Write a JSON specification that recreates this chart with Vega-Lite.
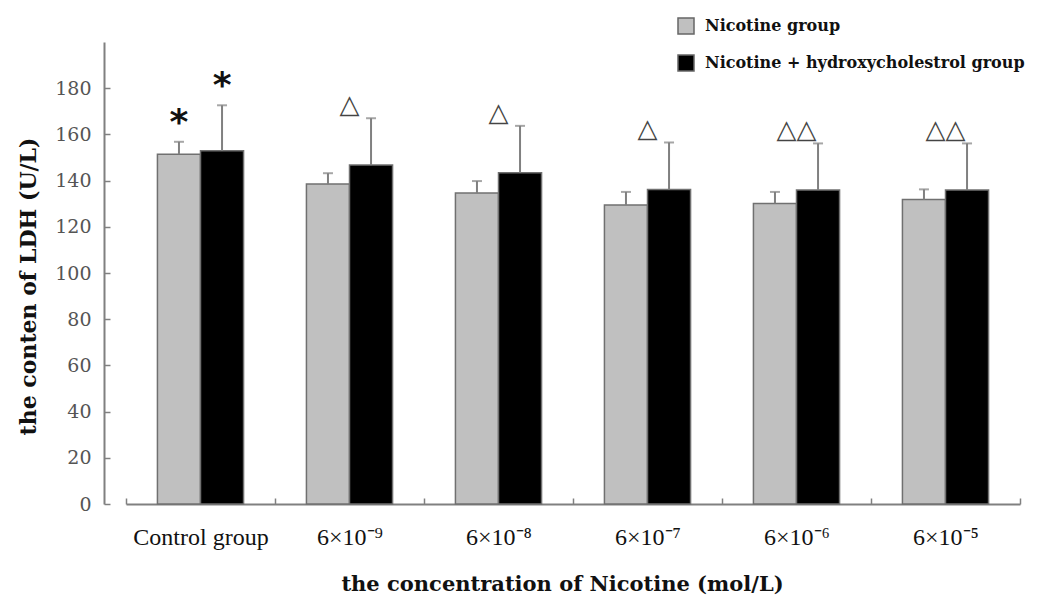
{
  "$schema": "https://vega.github.io/schema/vega-lite/v6.json",
  "width": 894,
  "height": 462,
  "autosize": {"type": "none"},
  "padding": {"left": 126, "top": 42, "right": 17, "bottom": 97},
  "background": "white",
  "config": {"view": {"stroke": null}},
  "data": {
    "values": [
      {"dose": "Control group", "series": "Nicotine group", "value": 151.4, "upper": 156.8, "sig": "*"},
      {"dose": "Control group", "series": "Nicotine + hydroxycholestrol group", "value": 152.9, "upper": 172.6, "sig": "*"},
      {"dose": "6×10⁻⁹", "series": "Nicotine group", "value": 138.5, "upper": 143.2, "sig": ""},
      {"dose": "6×10⁻⁹", "series": "Nicotine + hydroxycholestrol group", "value": 146.7, "upper": 167.0, "sig": "△"},
      {"dose": "6×10⁻⁸", "series": "Nicotine group", "value": 134.6, "upper": 139.8, "sig": ""},
      {"dose": "6×10⁻⁸", "series": "Nicotine + hydroxycholestrol group", "value": 143.4, "upper": 163.7, "sig": "△"},
      {"dose": "6×10⁻⁷", "series": "Nicotine group", "value": 129.4, "upper": 135.1, "sig": ""},
      {"dose": "6×10⁻⁷", "series": "Nicotine + hydroxycholestrol group", "value": 136.2, "upper": 156.5, "sig": "△"},
      {"dose": "6×10⁻⁶", "series": "Nicotine group", "value": 130.1, "upper": 135.1, "sig": ""},
      {"dose": "6×10⁻⁶", "series": "Nicotine + hydroxycholestrol group", "value": 135.9, "upper": 156.1, "sig": "△△"},
      {"dose": "6×10⁻⁵", "series": "Nicotine group", "value": 131.8, "upper": 136.2, "sig": ""},
      {"dose": "6×10⁻⁵", "series": "Nicotine + hydroxycholestrol group", "value": 135.9, "upper": 156.1, "sig": "△△"}
    ]
  },
  "encoding": {
    "x": {
      "field": "dose",
      "type": "nominal",
      "sort": null,
      "scale": {"paddingInner": 0, "paddingOuter": 0},
      "axis": {
        "title": "the concentration of Nicotine (mol/L)",
        "titleFont": "DejaVu Serif",
        "titleFontWeight": "bold",
        "titleFontSize": 21,
        "titleColor": "#111",
        "titlePadding": 24,
        "titleX": 436,
        "labelAngle": 0,
        "labelFont": "Liberation Serif",
        "labelFontSize": 24,
        "labelColor": "#111",
        "labelPadding": 27,
        "tickBand": "extent",
        "tickSize": -6,
        "tickColor": "#808080",
        "tickWidth": 1.5,
        "domainColor": "#808080",
        "domainWidth": 2
      }
    }
  },
  "layer": [
    {
      "mark": {"type": "bar", "stroke": "#707070", "strokeWidth": 1.5},
      "encoding": {
        "xOffset": {"field": "series", "type": "nominal", "sort": null, "scale": {"paddingInner": 0, "paddingOuter": 0.73}},
        "y": {
          "field": "value",
          "type": "quantitative",
          "scale": {"domain": [0, 200]},
          "axis": {
            "title": "the conten of LDH (U/L)",
            "titleFont": "DejaVu Serif",
            "titleFontWeight": "bold",
            "titleFontSize": 22,
            "titleColor": "#111",
            "titlePadding": 14,
            "titleY": 244,
            "values": [0, 20, 40, 60, 80, 100, 120, 140, 160, 180],
            "grid": false,
            "offset": 22,
            "labelFont": "DejaVu Serif",
            "labelFontSize": 19,
            "labelColor": "#555",
            "labelPadding": 19,
            "tickSize": -6,
            "tickColor": "#808080",
            "tickWidth": 1.5,
            "domainColor": "#808080",
            "domainWidth": 2
          }
        },
        "color": {
          "field": "series",
          "type": "nominal",
          "sort": null,
          "scale": {"range": ["#c0c0c0", "#000000"]},
          "legend": {
            "title": null,
            "orient": "none",
            "legendX": 551,
            "legendY": -25,
            "symbolType": "square",
            "symbolSize": 256,
            "symbolStrokeColor": "#666",
            "symbolStrokeWidth": 1.5,
            "labelFont": "DejaVu Serif",
            "labelFontWeight": "bold",
            "labelFontSize": 16,
            "labelColor": "#111",
            "labelOffset": 10,
            "labelLimit": 0,
            "rowPadding": 15
          }
        }
      }
    },
    {
      "mark": {"type": "rule", "color": "#808080", "strokeWidth": 2},
      "encoding": {
        "xOffset": {"field": "series", "type": "nominal", "sort": null},
        "y": {"field": "value", "type": "quantitative"},
        "y2": {"field": "upper"}
      }
    },
    {
      "mark": {"type": "tick", "color": "#808080", "thickness": 2, "size": 10, "orient": "horizontal"},
      "encoding": {
        "xOffset": {"field": "series", "type": "nominal", "sort": null},
        "y": {"field": "upper", "type": "quantitative"}
      }
    },
    {
      "transform": [{"filter": "datum.sig == '*'"}],
      "mark": {"type": "text", "font": "DejaVu Sans", "fontSize": 36, "fontWeight": "bold", "color": "#111", "baseline": "middle", "dy": -19},
      "encoding": {
        "xOffset": {"field": "series", "type": "nominal", "sort": null},
        "y": {"field": "upper", "type": "quantitative"},
        "text": {"field": "sig"}
      }
    },
    {
      "transform": [{"filter": "indexof(datum.sig, '△') >= 0"}],
      "mark": {"type": "text", "font": "DejaVu Sans", "fontSize": 26, "color": "#444", "baseline": "middle", "dy": -13},
      "encoding": {
        "y": {"field": "upper", "type": "quantitative"},
        "text": {"field": "sig"}
      }
    }
  ]
}
